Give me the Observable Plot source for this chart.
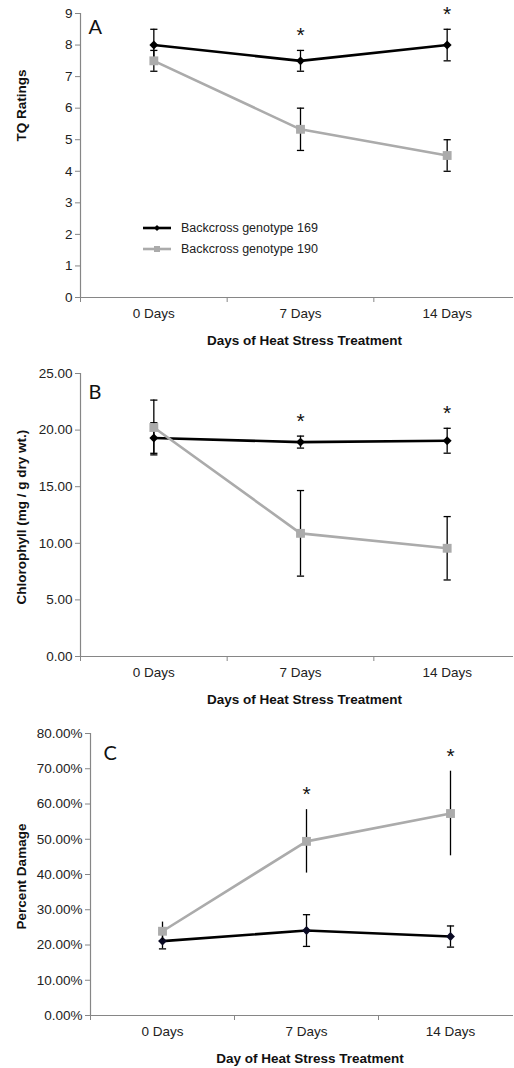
<!DOCTYPE html>
<html><head><meta charset="utf-8">
<script src="https://cdn.jsdelivr.net/npm/d3@7"></script>
<script src="https://cdn.jsdelivr.net/npm/@observablehq/plot@0.6"></script>
<style>
body{margin:0;background:#fff;font-family:"Liberation Sans",Arial,sans-serif;}
#wrap{position:relative;width:514px;height:1068px;overflow:hidden;}
#wrap svg{display:block;}
.legend{position:absolute;left:143px;top:217px;font:12.5px "Liberation Sans",Arial,sans-serif;color:#222;}
.legend div{display:flex;align-items:center;height:21px;}
.legend svg{margin-right:10px;}
</style></head><body><div id="wrap"></div>
<script>
const days = ["0 Days", "7 Days", "14 Days"];
const seriesNames = ["Backcross genotype 169", "Backcross genotype 190"];
const seriesColors = ["#000000", "#ababab"];

// Panel A: TQ ratings
const tq169 = [8.0, 7.5, 8.0];
const tq169Err = [0.5, 0.33, 0.5];
const tq190 = [7.5, 5.33, 4.5];
const tq190Err = [0.33, 0.67, 0.5];
const sigA = [1, 2];

// Panel B: chlorophyll (mg / g dry wt.)
const chl169 = [19.3, 18.94, 19.06];
const chl169Err = [1.35, 0.53, 1.1];
const chl190 = [20.23, 10.88, 9.56];
const chl190Err = [2.42, 3.78, 2.8];
const sigB = [1, 2];

// Panel C: percent damage
const dmg169 = [21.1, 24.1, 22.4];
const dmg169Err = [2.2, 4.5, 3.0];
const dmg190 = [23.9, 49.4, 57.3];
const dmg190Err = [2.6, 9.0, 12.0];
const sigC = [1, 2];

const ticksA = [0, 1, 2, 3, 4, 5, 6, 7, 8, 9];
const ticksB = [0, 5, 10, 15, 20, 25];
const ticksC = [0, 10, 20, 30, 40, 50, 60, 70, 80];

function rows(means, errs) {
  return means.map((m, i) => ({i, mean: m, lo: m - errs[i], hi: m + errs[i]}));
}

const capSym = {draw(ctx, size) { const w = Math.sqrt(size / Math.PI); ctx.moveTo(-w, 0); ctx.lineTo(w, 0); }};
const AXIS = "#868686";

function panel(o) {
  const r1 = rows(o.m1, o.e1), r2 = rows(o.m2, o.e2);
  const topAt = i => Math.max(r1[i].hi, r2[i].hi);
  return Plot.plot({
    width: 514, height: o.height,
    marginTop: o.mt, marginBottom: o.mb, marginLeft: o.ml, marginRight: 1,
    style: {fontFamily: "Liberation Sans, Arial, sans-serif", fontSize: "13.5px", color: "#222", background: "#fff"},
    x: {domain: [-0.5, 2.5], range: o.xRange},
    y: {domain: o.yDomain},
    marks: [
      Plot.axisY({ticks: o.yTicks, tickFormat: o.yFmt, tickSize: 5, tickPadding: 3, label: null, stroke: AXIS, color: "#222"}),
      Plot.axisX({ticks: [0, 1, 2], tickFormat: i => days[i], tickSize: 0, tickPadding: 11, label: null, color: "#222"}),
      Plot.axisX({ticks: [-0.5, 0.5, 1.5], tickFormat: () => "", tickSize: 5, label: null, stroke: AXIS}),
      Plot.ruleY([o.yDomain[0]], {stroke: AXIS, strokeWidth: 1.2}),
      Plot.ruleX([-0.5], {stroke: AXIS, strokeWidth: 1.2}),
      // series 1 (black)
      Plot.ruleX(r1, {x: "i", y1: "lo", y2: "hi", stroke: "#000", strokeWidth: 1.3}),
      Plot.dot(r1, {x: "i", y: "lo", symbol: capSym, r: 3.6, stroke: "#000", fill: "none", strokeWidth: 1.3}),
      Plot.dot(r1, {x: "i", y: "hi", symbol: capSym, r: 3.6, stroke: "#000", fill: "none", strokeWidth: 1.3}),
      Plot.line(r1, {x: "i", y: "mean", stroke: seriesColors[0], strokeWidth: 2.6}),
      Plot.dot(r1, {x: "i", y: "mean", symbol: "diamond2", r: 4, fill: o.c1 || seriesColors[0], stroke: "none"}),
      // series 2 (gray)
      Plot.ruleX(r2, {x: "i", y1: "lo", y2: "hi", stroke: "#000", strokeWidth: 1.3}),
      ...(o.caps2 ? [
        Plot.dot(r2, {x: "i", y: "lo", symbol: capSym, r: 3.6, stroke: "#000", fill: "none", strokeWidth: 1.3}),
        Plot.dot(r2, {x: "i", y: "hi", symbol: capSym, r: 3.6, stroke: "#000", fill: "none", strokeWidth: 1.3})
      ] : []),
      Plot.line(r2, {x: "i", y: "mean", stroke: seriesColors[1], strokeWidth: 2.6}),
      Plot.dot(r2, {x: "i", y: "mean", symbol: "square", r: 5, fill: seriesColors[1], stroke: "none"}),
      // significance stars
      Plot.text(o.sig, {x: d => d, y: d => topAt(d), text: () => "*", dy: -15, fontSize: 21, fill: "#111"}),
      // panel letter
      Plot.text([o.letter], {frameAnchor: "top-left", dx: o.letterDx, dy: o.letterDy, textAnchor: "start", lineAnchor: "middle", fontSize: 20, fontFamily: "Lato, 'Open Sans', sans-serif", fill: "#111"}),
      // axis titles
      Plot.text([o.yLabel], {frameAnchor: "left", rotate: -90, textAnchor: "middle", lineAnchor: "middle", dx: -(o.ml - 21), dy: o.yLabelDy, fontWeight: "bold", fontSize: 13.5, fill: "#111"}),
      Plot.text([o.xLabel], {frameAnchor: "bottom", textAnchor: "middle", lineAnchor: "middle", dx: o.xLabelDx, dy: 43, fontWeight: "bold", fontSize: 13.5, fill: "#111"})
    ]
  });
}

const wrap = document.getElementById("wrap");

wrap.append(panel({
  height: 355, mt: 13, mb: 58, ml: 80, xRange: [80, 520],
  yDomain: [0, 9], yTicks: ticksA, yFmt: d3.format("d"),
  m1: tq169, e1: tq169Err, m2: tq190, e2: tq190Err, caps2: true, sig: sigA,
  letter: "A", letterDx: 8, letterDy: 14,
  yLabel: "TQ Ratings", yLabelDy: -50,
  xLabel: "Days of Heat Stress Treatment", xLabelDx: 7.5
}));

wrap.append(panel({
  height: 356, mt: 18, mb: 55, ml: 80, xRange: [80, 520],
  yDomain: [0, 25], yTicks: ticksB, yFmt: d3.format(".2f"),
  m1: chl169, e1: chl169Err, m2: chl190, e2: chl190Err, caps2: true, sig: sigB,
  letter: "B", letterDx: 8, letterDy: 19,
  yLabel: "Chlorophyll (mg / g dry wt.)", yLabelDy: 2,
  xLabel: "Days of Heat Stress Treatment", xLabelDx: 7.5
}));

wrap.append(panel({
  height: 357, mt: 22, mb: 53, ml: 90, xRange: [90, 522],
  yDomain: [0, 80], yTicks: ticksC, yFmt: d => d.toFixed(2) + "%",
  m1: dmg169, e1: dmg169Err, m2: dmg190, e2: dmg190Err, caps2: false, sig: sigC, c1: "#0b0b24",
  letter: "C", letterDx: 13, letterDy: 20,
  yLabel: "Percent Damage", yLabelDy: 2,
  xLabel: "Day of Heat Stress Treatment", xLabelDx: 8
}));

// legend inside panel A
const legend = document.createElement("div");
legend.className = "legend";
seriesNames.forEach((name, k) => {
  const row = document.createElement("div");
  const sw = d3.create("svg").attr("width", 28).attr("height", 12);
  sw.append("line").attr("x1", 0).attr("x2", 28).attr("y1", 6).attr("y2", 6)
    .attr("stroke", seriesColors[k]).attr("stroke-width", 2.6);
  if (k === 0) sw.append("path").attr("d", "M14,3L17,6L14,9L11,6Z").attr("fill", seriesColors[0]);
  else sw.append("rect").attr("x", 11).attr("y", 3).attr("width", 6).attr("height", 6).attr("fill", seriesColors[1]);
  row.append(sw.node());
  const t = document.createElement("span");
  t.textContent = name;
  row.append(t);
  legend.append(row);
});
wrap.append(legend);
</script>
</body></html>
